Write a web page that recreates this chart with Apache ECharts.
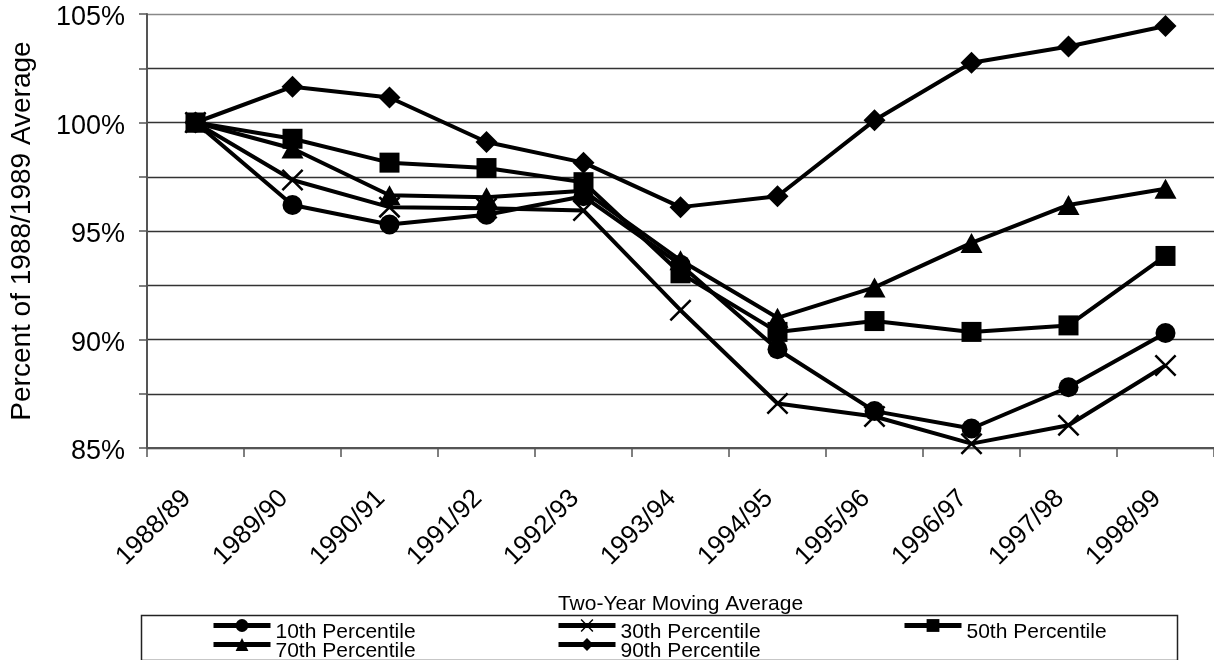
<!DOCTYPE html>
<html>
<head>
<meta charset="utf-8">
<script src="https://cdn.jsdelivr.net/npm/echarts@6/dist/echarts.min.js"></script>
<style>
  html, body { margin: 0; padding: 0; background: #fff; }
  #chart { width: 1214px; height: 660px; }
</style>
</head>
<body>
<div id="chart"></div>
<script>
// data
var years = ['1988/89', '1989/90', '1990/91', '1991/92', '1992/93', '1993/94',
             '1994/95', '1995/96', '1996/97', '1997/98', '1998/99'];
var p10 = [100, 96.2, 95.3, 95.75, 96.6, 93.45, 89.55, 86.7, 85.9, 87.8, 90.3];
var p30 = [100, 97.35, 96.1, 96.05, 95.95, 91.35, 87.05, 86.45, 85.2, 86.05, 88.8];
var p50 = [100, 99.25, 98.15, 97.9, 97.25, 93.05, 90.35, 90.85, 90.35, 90.65, 93.85];
var p70 = [100, 98.8, 96.65, 96.55, 96.85, 93.65, 91.0, 92.4, 94.45, 96.2, 96.95];
var p90 = [100, 101.65, 101.15, 99.1, 98.15, 96.1, 96.6, 100.1, 102.75, 103.5, 104.45];
var seriesNames = ['10th Percentile', '30th Percentile', '50th Percentile', '70th Percentile', '90th Percentile'];

var FONT = '"Liberation Sans", Arial, sans-serif';
var crossPath = 'path://M0,8 L8,0 L50,42 L92,0 L100,8 L58,50 L100,92 L92,100 L50,58 L8,100 L0,92 L42,50 Z';

var chart = echarts.init(document.getElementById('chart'));

function makeSeries(name, data, symbol, size) {
    return {
        name: name,
        type: 'line',
        data: data,
        symbol: symbol,
        symbolSize: size,
        showSymbol: true,
        color: '#000',
        lineStyle: { color: '#000', width: 4 },
        itemStyle: { color: '#000' },
        emphasis: { disabled: true }
    };
}

// one legend per entry so the items sit where they are in the picture
function makeLegend(name, left, top) {
    return {
        data: [name],
        left: left,
        top: top,
        padding: 0,
        orient: 'horizontal',
        itemWidth: 57,
        itemHeight: 16,
        itemGap: 0,
        selectedMode: false,
        lineStyle: { width: 5, color: '#000' },
        formatter: '{t|{name}}',
        textStyle: {
            color: '#000', fontSize: 21, fontFamily: FONT,
            rich: {
                t: { color: '#000', fontSize: 21, fontFamily: FONT, lineHeight: 18, padding: [14, 0, 0, 0] }
            }
        }
    };
}

var option = {
    animation: false,
    backgroundColor: '#fff',
    grid: { left: 147, top: 14, width: 1069, height: 434 },
    legend: [
        makeLegend(seriesNames[0], 211, 608),
        makeLegend(seriesNames[1], 556, 608),
        makeLegend(seriesNames[2], 902, 608),
        makeLegend(seriesNames[3], 211, 627),
        makeLegend(seriesNames[4], 556, 627)
    ],
    graphic: [{
        type: 'rect',
        left: 139,
        top: 613,
        shape: { width: 1036, height: 45 },
        style: { fill: 'none', stroke: '#222', lineWidth: 1.5 },
        silent: true,
        z: -1
    }],
    xAxis: {
        type: 'category',
        data: years,
        boundaryGap: true,
        name: 'Two-Year Moving Average',
        nameLocation: 'middle',
        nameGap: 146,
        nameTextStyle: { color: '#000', fontSize: 21, fontFamily: FONT },
        axisLine: { show: true, lineStyle: { color: '#555', width: 2 } },
        axisTick: { show: true, length: 9, lineStyle: { color: '#555', width: 1.5 } },
        axisLabel: {
            interval: 0,
            rotate: 45,
            margin: 38,
            padding: [0, 12, 0, 0],
            color: '#000',
            fontSize: 26,
            fontFamily: FONT
        },
        splitLine: { show: false }
    },
    yAxis: {
        type: 'value',
        min: 85,
        max: 105,
        interval: 2.5,
        name: 'Percent of 1988/1989 Average',
        nameLocation: 'middle',
        nameRotate: 90,
        nameGap: 111,
        nameTextStyle: { color: '#000', fontSize: 28, fontFamily: FONT },
        axisLine: { show: true, lineStyle: { color: '#555', width: 2 } },
        axisTick: { show: true, length: 8, lineStyle: { color: '#555', width: 1.5 } },
        axisLabel: {
            margin: 22,
            color: '#000',
            fontSize: 27,
            fontFamily: FONT,
            formatter: function (v) {
                return (v % 5 === 0) ? '{p|' + v + '%}' : '';
            },
            rich: {
                p: { color: '#000', fontSize: 27, fontFamily: FONT, padding: [8, 0, 0, 0] }
            }
        },
        splitLine: {
            show: true,
            lineStyle: {
                color: ['#333', '#333', '#333', '#333', '#333', '#333', '#333', '#333', '#888'],
                width: 1.3
            }
        }
    },
    series: [
        makeSeries(seriesNames[0], p10, 'circle', 20),
        makeSeries(seriesNames[1], p30, crossPath, 22),
        makeSeries(seriesNames[2], p50, 'rect', 20),
        makeSeries(seriesNames[3], p70, 'triangle', [22, 20]),
        makeSeries(seriesNames[4], p90, 'diamond', [22, 22])
    ]
};

chart.setOption(option);
</script>
</body>
</html>
